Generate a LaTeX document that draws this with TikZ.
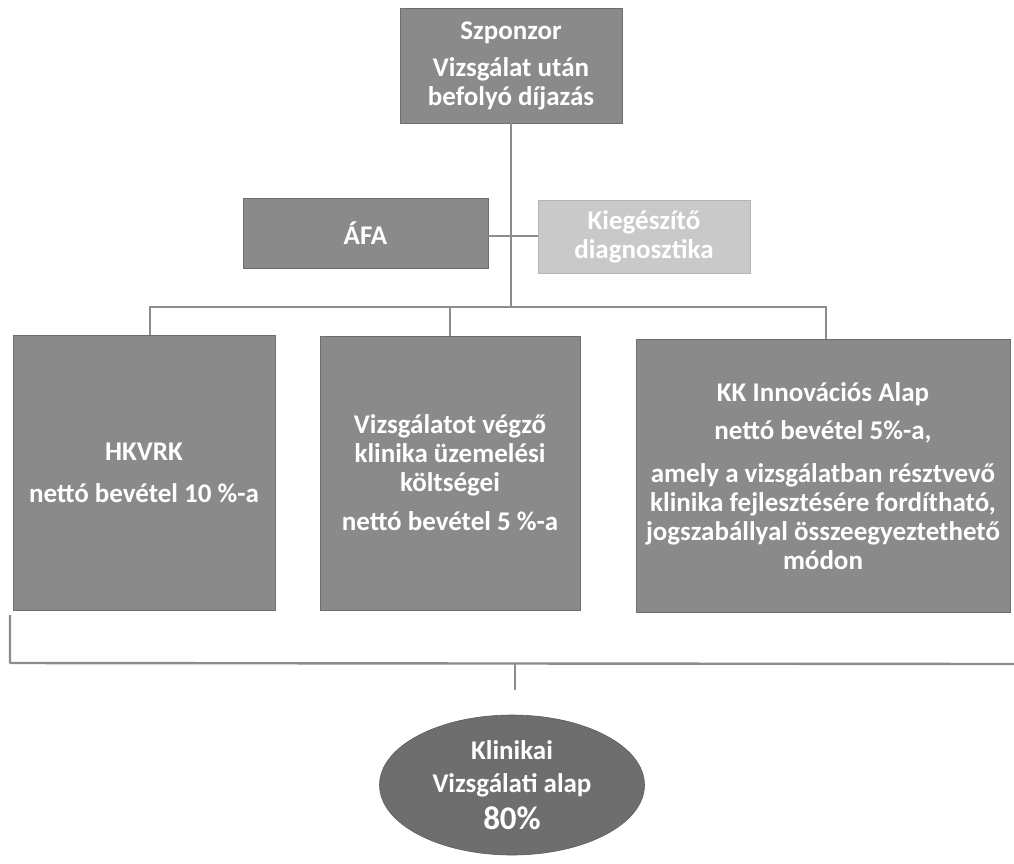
\documentclass[tikz,border=0pt]{standalone}
\usepackage{fontspec}
\setmainfont{Carlito}
\usetikzlibrary{shapes.geometric}
\definecolor{boxgray}{HTML}{8A8A8A}
\definecolor{lightgray2}{HTML}{C9C9C9}
\definecolor{darkgray2}{HTML}{6E6E6E}
\definecolor{linegray}{HTML}{8C8C8C}
\tikzset{
  box/.style={draw=boxgray!80!black, line width=0.6pt, fill=boxgray, text=white, font=\bfseries\fontsize{27}{29}\selectfont, align=center, inner sep=0pt},
  conn/.style={draw=linegray, line width=2.4pt},
}
\begin{document}
\begin{tikzpicture}[x=1pt,y=-1pt]
\useasboundingbox (0,0) rectangle (1014,863);
\fill[white] (0,0) rectangle (1014,863);
% top box
\node[box, minimum width=222pt, minimum height=115pt] (sp) at (511,65.5) {Szponzor\\[8pt]Vizsgálat után\\befolyó díjazás};
% middle boxes
\node[box, minimum width=245pt, minimum height=70pt] (afa) at (365.5,233) {ÁFA};
\node[box, fill=lightgray2, draw=lightgray2!90!black, minimum width=212pt, minimum height=73pt] (kieg) at (644,236.5) {Kiegészítő\\diagnosztika};
% bottom boxes
\node[box, minimum width=262pt, minimum height=275pt] (b1) at (144,472.5) {HKVRK\\[13pt]nettó bevétel 10 \%-a};
\node[box, minimum width=260pt, minimum height=274pt] (b2) at (450,473) {Vizsgálatot végző\\klinika üzemelési\\költségei\\[10pt]nettó bevétel 5 \%-a};
\node[box, minimum width=374pt, minimum height=273pt] (b3) at (823,476) {KK Innovációs Alap\\[9pt]nettó bevétel 5\%-a,\\[14pt]amely a vizsgálatban résztvevő\\klinika fejlesztésére fordítható,\\jogszabállyal összeegyeztethető\\módon};
% ellipse
\node[ellipse, fill=darkgray2, draw=darkgray2!85!black, line width=0.6pt, minimum width=265pt, minimum height=140pt, text=white, font=\bfseries\fontsize{27}{33}\selectfont, align=center] (kv) at (512,785) {Klinikai\\Vizsgálati alap\\[4pt]{\fontsize{33}{36}\selectfont 80\%}};
% connectors
\coordinate (j1) at (511,236);
\coordinate (j2) at (511,307);
\draw[conn] (sp.south) -- (j2);
\draw[conn] (afa.east |- j1) -- (kieg.west |- j1);
\draw[conn] (b1.north -| 150,0) |- (j2) -| (b3.north -| 826,0);
\draw[conn] (j2 -| b2.north) -- (b2.north);
% brace
\coordinate (brL) at (10,615);
\coordinate (brR) at (1014,664);
\coordinate (brM) at (515,663);
\coordinate (brT) at (515,690);
\draw[conn, line join=round] (brL) -- (10,663) -- (brR);
\draw[conn] (brM) -- (brT);
\end{tikzpicture}
\end{document}
